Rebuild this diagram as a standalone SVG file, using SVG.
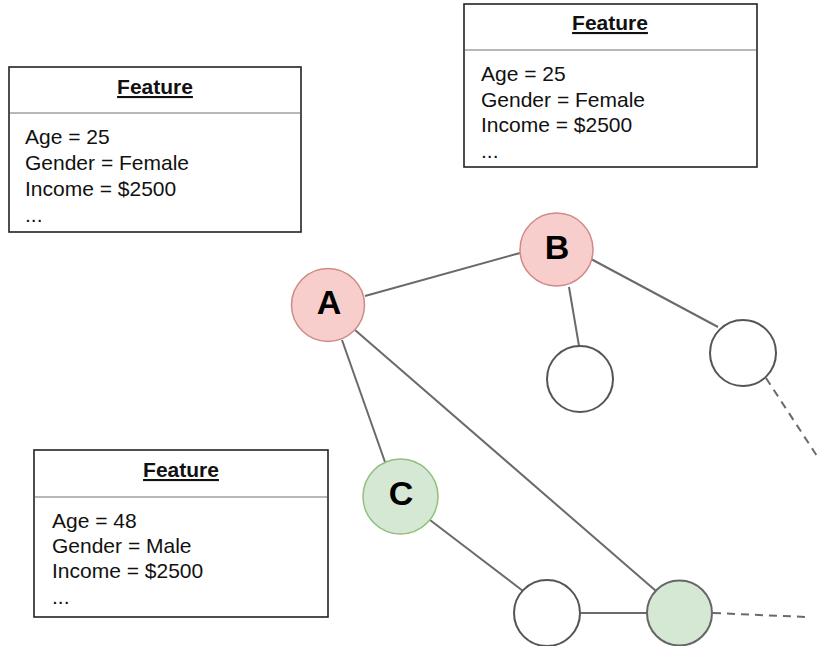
<svg xmlns="http://www.w3.org/2000/svg" width="817" height="646" viewBox="0 0 817 646">
<style>
.box{fill:#fff;stroke:#222;stroke-width:1.6}
.div{stroke:#b8b8b8;stroke-width:2}
.title{font-family:"Liberation Sans",Arial,sans-serif;font-weight:bold;font-size:21px;text-anchor:middle;text-decoration:underline;fill:#111}
.body{font-family:"Liberation Sans",Arial,sans-serif;font-size:21px;fill:#111}
.edge{stroke:#6a6a6a;stroke-width:2;fill:none}
.dash{stroke:#6a6a6a;stroke-width:2;fill:none;stroke-dasharray:8 6}
.red{fill:#f8cecc;stroke:#cf8a87;stroke-width:1.5}
.green{fill:#d5e8d4;stroke:#8fbf7f;stroke-width:1.5}
.green2{fill:#d5e8d4;stroke:#666;stroke-width:2}
.white{fill:#fff;stroke:#555;stroke-width:2}
.lbl{font-family:"Liberation Sans",Arial,sans-serif;font-weight:bold;font-size:34px;text-anchor:middle;fill:#000}
</style>
<rect width="817" height="646" fill="#fff"/>
<g id="connectors">
<line class="edge" x1="365" y1="296" x2="520" y2="253" stroke="#333"/>
<line class="edge" x1="342" y1="340" x2="385" y2="462"/>
<line class="edge" x1="355" y1="330" x2="656" y2="591"/>
<line class="edge" x1="569" y1="287" x2="579" y2="346"/>
<line class="edge" x1="591" y1="259" x2="718" y2="327"/>
<line class="dash" x1="766" y1="378" x2="817" y2="456"/>
<line class="edge" x1="430" y1="520" x2="523" y2="591"/>
<line class="edge" x1="581" y1="613" x2="647" y2="613" stroke="#888" stroke-width="3"/>
<line class="dash" x1="713" y1="613" x2="806" y2="617"/>
</g>
<g id="feature1">
<rect class="box" x="9" y="67" width="292" height="165"/>
<line class="div" x1="10" y1="113" x2="300" y2="113"/>
<text class="title" x="155" y="94">Feature</text>
<text class="body" x="25" y="144">Age = 25</text>
<text class="body" x="25" y="170">Gender = Female</text>
<text class="body" x="25" y="196">Income = $2500</text>
<text class="body" x="25" y="222">...</text>
</g>
<g id="feature2">
<rect class="box" x="464" y="4" width="293" height="163"/>
<line class="div" x1="465" y1="50" x2="756" y2="50"/>
<text class="title" x="610" y="30">Feature</text>
<text class="body" x="481" y="81">Age = 25</text>
<text class="body" x="481" y="107">Gender = Female</text>
<text class="body" x="481" y="132">Income = $2500</text>
<text class="body" x="481" y="158">...</text>
</g>
<g id="feature3">
<rect class="box" x="34" y="450" width="294" height="167"/>
<line class="div" x1="35" y1="497" x2="327" y2="497"/>
<text class="title" x="181" y="477">Feature</text>
<text class="body" x="52" y="528">Age = 48</text>
<text class="body" x="52" y="553">Gender = Male</text>
<text class="body" x="52" y="578">Income = $2500</text>
<text class="body" x="52" y="604">...</text>
</g>
<g id="nodeA">
<circle class="red" cx="328" cy="305" r="36.5"/>
<text class="lbl" x="329" y="314">A</text>
</g>
<g id="nodeB">
<circle class="red" cx="556.5" cy="249.5" r="36.5"/>
<text class="lbl" x="557" y="259">B</text>
</g>
<g id="nodeC">
<circle class="green" cx="400.5" cy="496.5" r="37.5"/>
<text class="lbl" x="401" y="505">C</text>
</g>
<g id="node4">
<circle class="white" cx="580" cy="379" r="33"/>
</g>
<g id="node5">
<circle class="white" cx="743" cy="353" r="33"/>
</g>
<g id="node6">
<circle class="white" cx="547" cy="613" r="33"/>
</g>
<g id="node7">
<circle class="green2" cx="679.5" cy="613" r="32.5"/>
</g>
</svg>
